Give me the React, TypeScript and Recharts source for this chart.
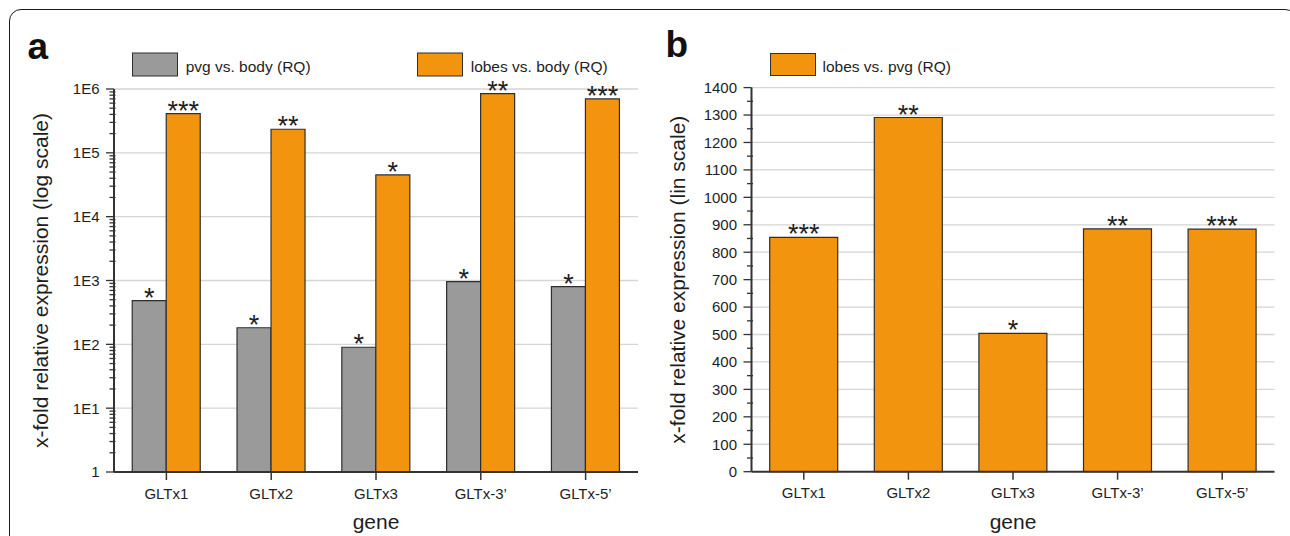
import React from 'react';
import { BarChart, Bar, XAxis, YAxis, CartesianGrid, Legend, LabelList } from 'recharts';

// ---------- data ----------
const GENES = ['GLTx1', 'GLTx2', 'GLTx3', 'GLTx-3\u2019', 'GLTx-5\u2019'];
const PVG_VS_BODY = [483, 182, 90, 958, 800];
const LOBES_VS_BODY = [410000, 234000, 45000, 845000, 698000];
const LOBES_VS_PVG = [854, 1291, 504, 885, 884];
const STARS_PVG_BODY = ['*', '*', '*', '*', '*'];
const STARS_LOBES_BODY = ['***', '**', '*', '**', '***'];
const STARS_LOBES_PVG = ['***', '**', '*', '**', '***'];

const LOG_MAJOR_TICKS = [1, 10, 100, 1000, 10000, 100000, 1000000];
const LOG_TICK_LABELS = ['1', '1E1', '1E2', '1E3', '1E4', '1E5', '1E6'];
const LOG_MINOR_FACTORS = [2, 3, 4, 5, 6, 7, 8, 9];
const LIN_MAJOR_TICKS = [0, 100, 200, 300, 400, 500, 600, 700, 800, 900, 1000, 1100, 1200, 1300, 1400];
const LIN_TICK_LABELS = ['0', '100', '200', '300', '400', '500', '600', '700', '800', '900', '1000', '1100', '1200', '1300', '1400'];
const LIN_MINOR_TICKS = [50, 150, 250, 350, 450, 550, 650, 750, 850, 950, 1050, 1150, 1250, 1350];

const SERIES_A = ['pvg vs. body (RQ)', 'lobes vs. body (RQ)'];
const SERIES_B = ['lobes vs. pvg (RQ)'];

const LOG_ALL_TICKS = [
  ...LOG_MAJOR_TICKS,
  ...LOG_MAJOR_TICKS.slice(0, -1).flatMap((d) => LOG_MINOR_FACTORS.map((f) => f * d)),
].sort((a, b) => a - b);
const LIN_ALL_TICKS = [...LIN_MAJOR_TICKS, ...LIN_MINOR_TICKS].sort((a, b) => a - b);

const dataA = GENES.map((gene, i) => ({
  gene,
  pvg: PVG_VS_BODY[i],
  lobes: LOBES_VS_BODY[i],
  pvgStars: STARS_PVG_BODY[i],
  lobesStars: STARS_LOBES_BODY[i],
}));
const dataB = GENES.map((gene, i) => ({
  gene,
  lobesPvg: LOBES_VS_PVG[i],
  stars: STARS_LOBES_PVG[i],
}));

// ---------- styles ----------
const FONT = '"Liberation Sans", Arial, Helvetica, sans-serif';
const GRAY = '#9a9a9a';
const ORANGE = '#f3940f';
const OUTLINE = '#2e2e2e';
const AXIS = '#333333';
const TEXT = '#1e1e1e';

const makeYTick = (axisX: number, majors: number[], labels: string[]) => (props: any) => {
  const { y, payload } = props;
  const idx = majors.indexOf(payload.value);
  const major = idx >= 0;
  return (
    <g>
      <line
        x1={axisX - (major ? 8 : 4.5)}
        x2={axisX + (major ? 0 : 1.5)}
        y1={y}
        y2={y}
        stroke={AXIS}
        strokeWidth={1.3}
      />
      {major && (
        <text x={axisX - 14.5} y={y} dy="0.36em" textAnchor="end" fontSize={15} fill={TEXT} fontFamily={FONT}>
          {labels[idx]}
        </text>
      )}
    </g>
  );
};

const makeYTitle = (text: string) => (props: any) => {
  const vb = props.viewBox || {};
  const x = vb.x + vb.width - 66.5;
  const cy = vb.y + vb.height / 2;
  return (
    <text
      x={x}
      y={cy}
      transform={`rotate(-90 ${x} ${cy})`}
      textAnchor="middle"
      fontSize={21}
      fill={TEXT}
      fontFamily={FONT}
    >
      {text}
    </text>
  );
};

const StarLabel = (props: any) => {
  const { x, y, width, value } = props;
  return (
    <text x={Number(x) + Number(width) / 2} y={Number(y) + 6} textAnchor="middle" fontSize={27} fill={TEXT} fontFamily={FONT}>
      {value}
    </text>
  );
};

const LegendA = () => (
  <svg width={660} height={88} style={{ display: 'block' }}>
    <text x={27.5} y={58.5} fontSize={37} fontWeight="bold" fill="#111" fontFamily={FONT}>a</text>
    <rect x={132.5} y={53} width={45} height={23} fill={GRAY} stroke={OUTLINE} strokeWidth={1} />
    <text x={185.7} y={71.7} fontSize={15.5} fill={TEXT} fontFamily={FONT}>{SERIES_A[0]}</text>
    <rect x={417.5} y={53} width={45} height={23} fill={ORANGE} stroke={OUTLINE} strokeWidth={1} />
    <text x={470.7} y={71.7} fontSize={15.5} fill={TEXT} fontFamily={FONT}>{SERIES_A[1]}</text>
  </svg>
);

const LegendB = () => (
  <svg width={650} height={88} style={{ display: 'block' }}>
    <text x={25.5} y={57} fontSize={37} fontWeight="bold" fill="#111" fontFamily={FONT}>b</text>
    <rect x={130.5} y={53.5} width={45} height={22} fill={ORANGE} stroke={OUTLINE} strokeWidth={1} />
    <text x={182.5} y={71.5} fontSize={15.5} fill={TEXT} fontFamily={FONT}>{SERIES_B[0]}</text>
  </svg>
);

const xTick = { fontSize: 15, fill: TEXT, fontFamily: FONT };

export default function App() {
  return (
    <div
      style={{
        position: 'absolute',
        left: 0,
        top: 0,
        width: 1290,
        height: 536,
        overflow: 'hidden',
        background: '#fff',
        fontFamily: FONT,
      }}
    >
      <div
        style={{
          position: 'absolute',
          left: 8.5,
          top: 8.5,
          width: 1288,
          height: 620,
          border: '1.6px solid #1a1a1a',
          borderRadius: 12,
          boxSizing: 'border-box',
        }}
      />
      <div style={{ position: 'absolute', left: 0, top: 0 }}>
        <BarChart
          width={660}
          height={536}
          data={dataA}
          margin={{ top: 89, right: 22, bottom: 0, left: 54 }}
          barCategoryGap="17.4%"
          barGap={0}
        >
          <CartesianGrid vertical={false} horizontalValues={LOG_MAJOR_TICKS.slice(1)} stroke="#d5d5d5" strokeWidth={1.3} />
          <Legend
            verticalAlign="middle"
            align="center"
            layout="horizontal"
            wrapperStyle={{ position: 'absolute', left: 0, top: 0, width: 660, height: 88 }}
            content={() => <LegendA />}
          />
          <XAxis
            dataKey="gene"
            height={64}
            interval={0}
            tickSize={8}
            tickMargin={8}
            axisLine={{ stroke: AXIS, strokeWidth: 2 }}
            tickLine={{ stroke: AXIS, strokeWidth: 1.5 }}
            tick={xTick}
            label={{ value: 'gene', position: 'insideBottom', offset: 7, fontSize: 21, fill: TEXT, fontFamily: FONT }}
          />
          <YAxis
            type="number"
            scale="log"
            domain={[1, 1000000]}
            ticks={LOG_ALL_TICKS}
            interval={0}
            width={60}
            tickLine={false}
            axisLine={{ stroke: AXIS, strokeWidth: 2 }}
            tick={makeYTick(114, LOG_MAJOR_TICKS, LOG_TICK_LABELS)}
            label={makeYTitle('x-fold relative expression (log scale)')}
            allowDataOverflow
          />
          <Bar dataKey="pvg" name={SERIES_A[0]} fill={GRAY} stroke={OUTLINE} strokeWidth={1.2} isAnimationActive={false}>
            <LabelList dataKey="pvgStars" content={StarLabel} />
          </Bar>
          <Bar dataKey="lobes" name={SERIES_A[1]} fill={ORANGE} stroke={OUTLINE} strokeWidth={1.2} isAnimationActive={false}>
            <LabelList dataKey="lobesStars" content={StarLabel} />
          </Bar>
        </BarChart>
      </div>
      <div style={{ position: 'absolute', left: 640, top: 0 }}>
        <BarChart
          width={650}
          height={536}
          data={dataB}
          margin={{ top: 87.6, right: 15.5, bottom: 0, left: 51.5 }}
          barCategoryGap="17.4%"
          barGap={0}
        >
          <CartesianGrid vertical={false} horizontalValues={LIN_MAJOR_TICKS.slice(1)} stroke="#d5d5d5" strokeWidth={1.3} />
          <Legend
            verticalAlign="middle"
            align="center"
            layout="horizontal"
            wrapperStyle={{ position: 'absolute', left: 0, top: 0, width: 650, height: 88 }}
            content={() => <LegendB />}
          />
          <XAxis
            dataKey="gene"
            height={64.3}
            interval={0}
            tickSize={8}
            tickMargin={8}
            axisLine={{ stroke: AXIS, strokeWidth: 2 }}
            tickLine={{ stroke: AXIS, strokeWidth: 1.5 }}
            tick={xTick}
            label={{ value: 'gene', position: 'insideBottom', offset: 7, fontSize: 21, fill: TEXT, fontFamily: FONT }}
          />
          <YAxis
            type="number"
            domain={[0, 1400]}
            ticks={LIN_ALL_TICKS}
            interval={0}
            width={60}
            tickLine={false}
            axisLine={{ stroke: AXIS, strokeWidth: 2 }}
            tick={makeYTick(111.5, LIN_MAJOR_TICKS, LIN_TICK_LABELS)}
            label={makeYTitle('x-fold relative expression (lin scale)')}
          />
          <Bar dataKey="lobesPvg" name={SERIES_B[0]} fill={ORANGE} stroke={OUTLINE} strokeWidth={1.2} isAnimationActive={false}>
            <LabelList dataKey="stars" content={StarLabel} />
          </Bar>
        </BarChart>
      </div>
    </div>
  );
}
